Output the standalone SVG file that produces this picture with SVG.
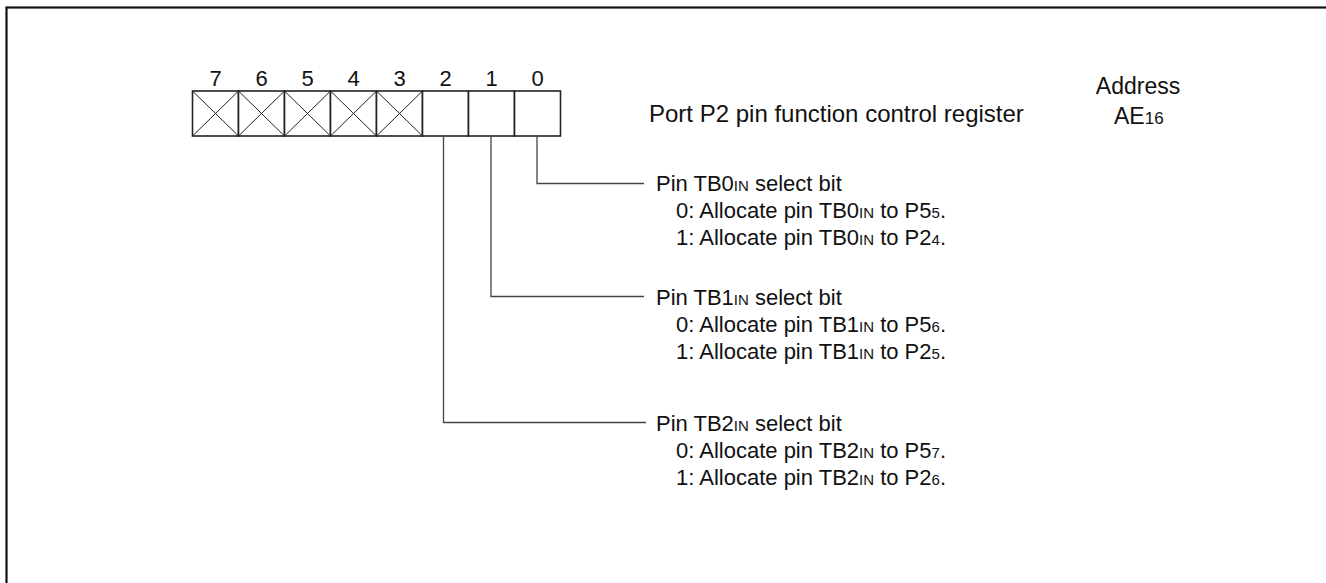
<svg xmlns="http://www.w3.org/2000/svg" width="1326" height="583" viewBox="0 0 1326 583">
<style>
text{font-family:"Liberation Sans",Arial,sans-serif;font-size:22px;fill:#111}
.s{font-size:15px}
.t{font-size:24px}
.a{font-size:23px}
.c{fill:#fff;stroke:#222;stroke-width:1.6}
.x{stroke:#222;stroke-width:1}
.l{fill:none;stroke:#444;stroke-width:1.3}
.m{text-anchor:middle}
</style>
<rect x="6.5" y="7.5" width="1340" height="600" fill="#fff" stroke="#111" stroke-width="2.2"/>
<g id="register">
<g id="bits" class="m">
<text x="215.5" y="86">7</text><text x="261.5" y="86">6</text><text x="307.5" y="86">5</text><text x="353.5" y="86">4</text>
<text x="399.5" y="86">3</text><text x="445.5" y="86">2</text><text x="491.5" y="86">1</text><text x="537.5" y="86">0</text>
</g>
<rect class="c" x="192.5" y="91" width="46" height="45"/>
<rect class="c" x="238.5" y="91" width="46" height="45"/>
<rect class="c" x="284.5" y="91" width="46" height="45"/>
<rect class="c" x="330.5" y="91" width="46" height="45"/>
<rect class="c" x="376.5" y="91" width="46" height="45"/>
<rect class="c" x="422.5" y="91" width="46" height="45"/>
<rect class="c" x="468.5" y="91" width="46" height="45"/>
<rect class="c" x="514.5" y="91" width="46" height="45"/>
<path class="x" d="M192.5 91L238.5 136M238.5 91L192.5 136M238.5 91L284.5 136M284.5 91L238.5 136M284.5 91L330.5 136M330.5 91L284.5 136M330.5 91L376.5 136M376.5 91L330.5 136M376.5 91L422.5 136M422.5 91L376.5 136"/>
</g>
<g id="title">
<text class="t" x="649" y="122">Port P2 pin function control register</text>
<text class="m a" x="1138" y="94">Address</text>
<text class="a" x="1114" y="124">AE<tspan style="font-size:17px">16</tspan></text>
</g>
<g id="connectors">
<path class="l" d="M537 136V183.5H644"/>
<path class="l" d="M491 136V296.5H644"/>
<path class="l" d="M443.5 136V422.5H646"/>
</g>
<g id="bit0">
<text x="656" y="191">Pin TB0<tspan class="s">IN</tspan> select bit</text>
<text x="676" y="218">0: Allocate pin TB0<tspan class="s">IN</tspan> to P5<tspan class="s">5</tspan>.</text>
<text x="676" y="245">1: Allocate pin TB0<tspan class="s">IN</tspan> to P2<tspan class="s">4</tspan>.</text>
</g>
<g id="bit1">
<text x="656" y="304.5">Pin TB1<tspan class="s">IN</tspan> select bit</text>
<text x="676" y="331.5">0: Allocate pin TB1<tspan class="s">IN</tspan> to P5<tspan class="s">6</tspan>.</text>
<text x="676" y="358.5">1: Allocate pin TB1<tspan class="s">IN</tspan> to P2<tspan class="s">5</tspan>.</text>
</g>
<g id="bit2">
<text x="656" y="430.5">Pin TB2<tspan class="s">IN</tspan> select bit</text>
<text x="676" y="457.5">0: Allocate pin TB2<tspan class="s">IN</tspan> to P5<tspan class="s">7</tspan>.</text>
<text x="676" y="484.5">1: Allocate pin TB2<tspan class="s">IN</tspan> to P2<tspan class="s">6</tspan>.</text>
</g>
</svg>
